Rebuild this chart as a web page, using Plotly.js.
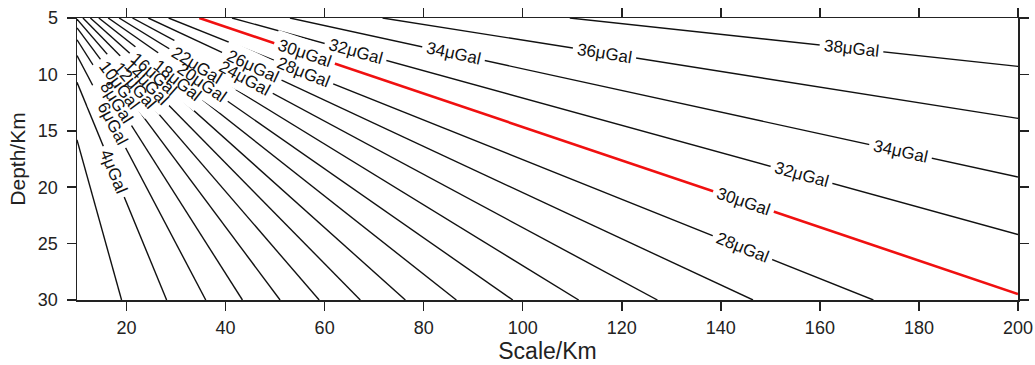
<!DOCTYPE html>
<html>
<head>
<meta charset="utf-8">
<script src="https://cdn.plot.ly/plotly-3.0.1.min.js"></script>
<style>html,body{margin:0;padding:0;background:#fff;}#chart{width:1035px;height:365px;}</style>
</head>
<body>
<div id="chart"></div>
<script>
// Contour levels (μGal) and the end points of each contour line (scale km, depth km)
const levels      = [2, 4, 6, 8, 10, 12, 14, 16, 18, 20, 22, 24, 26, 28, 30, 32, 34, 36, 38];
const startScale  = [10, 10, 10, 10, 10, 10, 11.2, 12.7, 14.4, 16.3, 18.5, 21.2, 24.4, 28.5, 34.7, 41.3, 53.0, 71.7, 109.5];
const startDepth  = [15.8, 10.7, 8.33, 6.93, 5.88, 5.1, 5, 5, 5, 5, 5, 5, 5, 5, 5, 5, 5, 5, 5];
const endScale    = [19.0, 28.1, 36.0, 43.4, 51.0, 58.9, 67.2, 76.3, 86.6, 98.0, 111.3, 127.2, 146.5, 170.8, 200, 200, 200, 200, 200];
const endDepth    = [30, 30, 30, 30, 30, 30, 30, 30, 30, 30, 30, 30, 30, 30, 29.47, 24.2, 19.1, 13.9, 9.29];

// Contour labels: level and scale position along its line
const labelLevel  = [4, 6, 8, 10, 12, 14, 16, 18, 20, 22, 24, 26, 28, 30, 32, 34, 36, 38, 28, 30, 32, 34];
const labelScale  = [17.4, 17.2, 18.0, 18.6, 21.6, 24.0, 25.5, 30.3, 35.1, 34.2, 43.9, 45.5, 55.8, 56.0, 66.2, 86.1, 116.5, 166.4, 144.3, 144.5, 156.2, 176.3];

const xTicks = [20, 40, 60, 80, 100, 120, 140, 160, 180, 200];
const yTicks = [5, 10, 15, 20, 25, 30];

const FONT = 'Liberation Sans, Arial, Helvetica, sans-serif';
const W = 1035, H = 365;
const M = {l: 77, r: 17, t: 18, b: 65};
const xr = [10, 200], yr = [30, 5];
const pxPerX = (W - M.l - M.r) / (xr[1] - xr[0]);
const pxPerY = (H - M.t - M.b) / (yr[0] - yr[1]);

const traces = levels.map((lv, i) => ({
  type: 'scatter', mode: 'lines',
  x: [startScale[i], endScale[i]],
  y: [startDepth[i], endDepth[i]],
  line: {color: lv === 30 ? '#f01010' : '#111', width: lv === 30 ? 2.6 : 1.4},
  hoverinfo: 'skip', showlegend: false
}));

const masks = [], texts = [];
labelLevel.forEach((lv, k) => {
  const i = levels.indexOf(lv);
  const t = (labelScale[k] - startScale[i]) / (endScale[i] - startScale[i]);
  const yv = startDepth[i] + t * (endDepth[i] - startDepth[i]);
  const ang = Math.atan2((endDepth[i] - startDepth[i]) * pxPerY, (endScale[i] - startScale[i]) * pxPerX) * 180 / Math.PI;
  const base = {x: labelScale[k], y: yv, xref: 'x', yref: 'y', showarrow: false,
    text: lv + 'μGal', textangle: ang, xanchor: 'center', yanchor: 'middle'};
  masks.push(Object.assign({}, base, {bgcolor: '#ffffff', borderpad: 4,
    font: {family: FONT, size: 17, color: 'rgba(0,0,0,0)'}}));
  texts.push(Object.assign({}, base, {font: {family: FONT, size: 17, color: '#111'}}));
});

const axisCommon = {
  showline: true, linecolor: '#222', linewidth: 1.5, mirror: 'ticks',
  ticks: 'outside', ticklen: 9, tickwidth: 1.5, tickcolor: '#222',
  showgrid: false, zeroline: false,
  tickfont: {family: FONT, size: 18, color: '#222'}
};

const layout = {
  width: W, height: H, margin: M,
  paper_bgcolor: '#fff', plot_bgcolor: '#fff',
  xaxis: Object.assign({}, axisCommon, {range: xr, tickmode: 'array', tickvals: xTicks,
    ticktext: xTicks.map(String), ticklabelstandoff: 2,
    title: {text: 'Scale/Km', font: {family: FONT, size: 23, color: '#222'}, standoff: 6}}),
  yaxis: Object.assign({}, axisCommon, {range: yr, tickmode: 'array', tickvals: yTicks,
    ticktext: yTicks.map(String), ticklabelstandoff: 5,
    title: {text: 'Depth/Km', font: {family: FONT, size: 21, color: '#222'}, standoff: 6}}),
  annotations: masks.concat(texts)
};

Plotly.newPlot('chart', traces, layout, {staticPlot: true, displayModeBar: false});
</script>
</body>
</html>
